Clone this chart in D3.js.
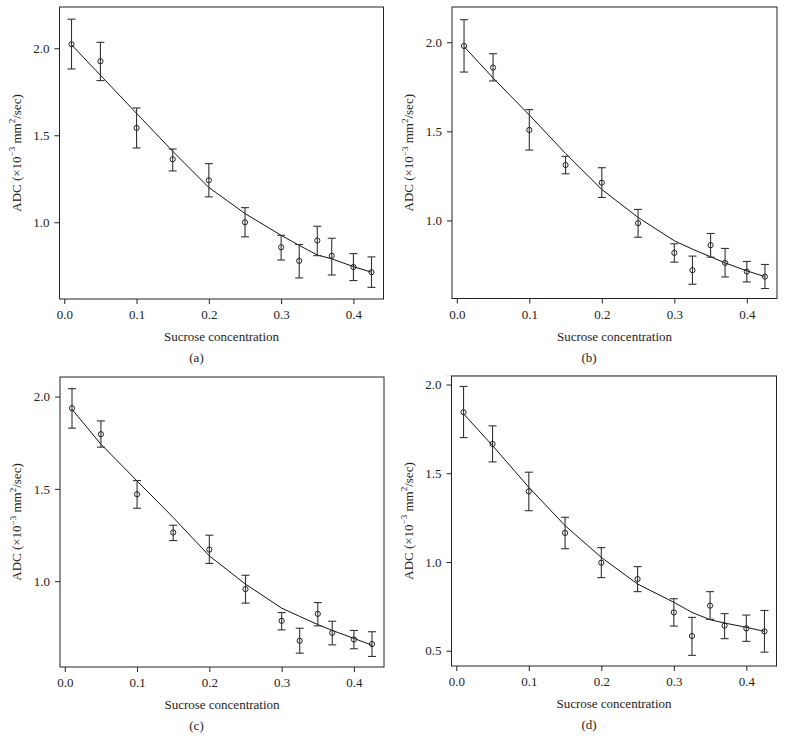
<!DOCTYPE html>
<html>
<head>
<meta charset="utf-8">
<script src="https://cdn.jsdelivr.net/npm/d3@7"></script>
<style>
  html, body { margin: 0; padding: 0; background: #fff; }
  svg { display: block; }
  text { font-family: "Liberation Serif", "DejaVu Serif", serif; fill: #222; }
</style>
</head>
<body>
<svg id="chart" width="786" height="751"></svg>
<script>
// ---- Data ----
const xValues = [0.01, 0.05, 0.1, 0.15, 0.2, 0.25, 0.3, 0.325, 0.35, 0.37, 0.4, 0.425];
const xTicks = [0.0, 0.1, 0.2, 0.3, 0.4];
const yTicks = [0.5, 1.0, 1.5, 2.0];
const panelLabels = ["(a)", "(b)", "(c)", "(d)"];
const xTitle = "Sucrose concentration";

const meanA  = [2.023, 1.925, 1.542, 1.362, 1.241, 1.000, 0.856, 0.778, 0.895, 0.807, 0.743, 0.713];
const upperA = [2.167, 2.034, 1.657, 1.421, 1.337, 1.084, 0.925, 0.872, 0.977, 0.908, 0.820, 0.801];
const lowerA = [1.881, 1.814, 1.427, 1.295, 1.146, 0.916, 0.783, 0.680, 0.808, 0.697, 0.665, 0.626];
const fitA   = [2.020, 1.845, 1.626, 1.408, 1.200, 1.050, 0.925, 0.867, 0.812, 0.790, 0.745, 0.713];

const meanB  = [1.979, 1.858, 1.508, 1.311, 1.212, 0.985, 0.818, 0.721, 0.861, 0.762, 0.713, 0.685];
const upperB = [2.127, 1.936, 1.622, 1.360, 1.296, 1.062, 0.869, 0.800, 0.927, 0.843, 0.770, 0.753];
const lowerB = [1.833, 1.783, 1.395, 1.262, 1.129, 0.906, 0.766, 0.642, 0.794, 0.683, 0.655, 0.618];
const fitB   = [1.976, 1.800, 1.592, 1.376, 1.174, 1.017, 0.886, 0.839, 0.796, 0.762, 0.717, 0.685];

const meanC  = [1.937, 1.796, 1.471, 1.264, 1.171, 0.957, 0.785, 0.677, 0.823, 0.720, 0.684, 0.659];
const upperC = [2.043, 1.868, 1.545, 1.303, 1.249, 1.032, 0.830, 0.745, 0.884, 0.783, 0.733, 0.726];
const lowerC = [1.829, 1.726, 1.395, 1.220, 1.096, 0.881, 0.736, 0.610, 0.758, 0.655, 0.634, 0.592];
const fitC   = [1.931, 1.742, 1.543, 1.345, 1.137, 0.984, 0.854, 0.809, 0.765, 0.733, 0.690, 0.653];

const meanD  = [1.844, 1.665, 1.398, 1.164, 0.996, 0.904, 0.716, 0.583, 0.754, 0.641, 0.626, 0.609];
const upperD = [1.989, 1.767, 1.506, 1.252, 1.081, 0.974, 0.793, 0.688, 0.833, 0.709, 0.701, 0.727];
const lowerD = [1.701, 1.564, 1.289, 1.075, 0.912, 0.833, 0.639, 0.474, 0.677, 0.568, 0.553, 0.492];
const fitD   = [1.835, 1.656, 1.421, 1.205, 1.026, 0.876, 0.773, 0.716, 0.675, 0.656, 0.632, 0.609];

const xDomain = [-0.0066, 0.4416];
const yDomains = [[0.559, 2.237], [0.562, 2.198], [0.535, 2.106], [0.414, 2.048]];

// ---- Layout ----
const boxes = [
  {left: 59.5, top: 7,   right: 383.5, bottom: 299,   cx: 196.5},
  {left: 452,  top: 7,   right: 777,   bottom: 298.5, cx: 589},
  {left: 60,   top: 377, right: 384,   bottom: 667,   cx: 196.5},
  {left: 451.5,top: 376, right: 776.5, bottom: 666,   cx: 589}
];

const series = [
  {mean: meanA, upper: upperA, lower: lowerA, fit: fitA},
  {mean: meanB, upper: upperB, lower: lowerB, fit: fitB},
  {mean: meanC, upper: upperC, lower: lowerC, fit: fitC},
  {mean: meanD, upper: upperD, lower: lowerD, fit: fitD}
];

const svg = d3.select("#chart");
const ink = "#222";
const fs = 13;

// faint separator line seen under panel (b)
svg.append("line").attr("x1", 446).attr("x2", 776).attr("y1", 375.5).attr("y2", 375.5)
  .attr("stroke", "#e4e4e4").attr("stroke-width", 1);

series.forEach((s, i) => {
  const b = boxes[i];
  const x = d3.scaleLinear().domain(xDomain).range([b.left, b.right]);
  const y = d3.scaleLinear().domain(yDomains[i]).range([b.bottom, b.top]);
  const g = svg.append("g");

  const pts = xValues.map((xv, k) => ({x: xv, m: s.mean[k], u: s.upper[k], l: s.lower[k], f: s.fit[k]}));

  // box
  g.append("rect")
    .attr("x", b.left).attr("y", b.top)
    .attr("width", b.right - b.left).attr("height", b.bottom - b.top)
    .attr("fill", "none").attr("stroke", ink).attr("stroke-width", 1);

  // x axis
  const xAxis = d3.axisBottom(x).tickValues(xTicks).tickFormat(d3.format(".1f"))
    .tickSize(5).tickPadding(6);
  const gx = g.append("g").attr("transform", `translate(0,${b.bottom})`).call(xAxis);
  gx.select(".domain").remove();
  gx.selectAll("line").attr("stroke", ink);
  gx.selectAll("text").attr("font-size", fs).attr("font-family", "Liberation Serif").attr("fill", ink);

  // y axis
  const yt = yTicks.filter(t => t >= yDomains[i][0] && t <= yDomains[i][1]);
  const yAxis = d3.axisLeft(y).tickValues(yt).tickFormat(d3.format(".1f"))
    .tickSize(5).tickPadding(5);
  const gy = g.append("g").attr("transform", `translate(${b.left},0)`).call(yAxis);
  gy.select(".domain").remove();
  gy.selectAll("line").attr("stroke", ink);
  gy.selectAll("text").attr("font-size", fs).attr("font-family", "Liberation Serif").attr("fill", ink);

  // fitted curve
  const line = d3.line().x(d => x(d.x)).y(d => y(d.f));
  g.append("path").datum(pts).attr("d", line)
    .attr("fill", "none").attr("stroke", "#111").attr("stroke-width", 1);

  // error bars
  const eb = g.append("g").attr("stroke", "#333").attr("stroke-width", 1.1);
  pts.forEach(d => {
    const cx = x(d.x);
    eb.append("line").attr("x1", cx).attr("x2", cx).attr("y1", y(d.u)).attr("y2", y(d.l));
    eb.append("line").attr("x1", cx - 4).attr("x2", cx + 4).attr("y1", y(d.u)).attr("y2", y(d.u));
    eb.append("line").attr("x1", cx - 4).attr("x2", cx + 4).attr("y1", y(d.l)).attr("y2", y(d.l));
  });

  // points
  g.selectAll("circle.pt").data(pts).enter().append("circle")
    .attr("class", "pt")
    .attr("cx", d => x(d.x)).attr("cy", d => y(d.m)).attr("r", 2.6)
    .attr("fill", "none").attr("stroke", "#222").attr("stroke-width", 1);

  // x title
  g.append("text").attr("x", (b.left + b.right) / 2).attr("y", b.bottom + 42)
    .attr("text-anchor", "middle").attr("font-size", fs).text(xTitle);

  // panel label
  g.append("text").attr("x", b.cx).attr("y", b.bottom + 63)
    .attr("text-anchor", "middle").attr("font-size", fs).text(panelLabels[i]);

  // y title
  const ty = g.append("text")
    .attr("transform", `translate(${b.left - 39},${(b.top + b.bottom) / 2}) rotate(-90)`)
    .attr("text-anchor", "middle").attr("font-size", fs);
  ty.append("tspan").text("ADC (×10");
  ty.append("tspan").attr("dy", -5.5).attr("font-size", 9).text("−3");
  ty.append("tspan").attr("dy", 5.5).text(" mm");
  ty.append("tspan").attr("dy", -5.5).attr("font-size", 9).text("2");
  ty.append("tspan").attr("dy", 5.5).text("/sec)");
});
</script>
</body>
</html>
